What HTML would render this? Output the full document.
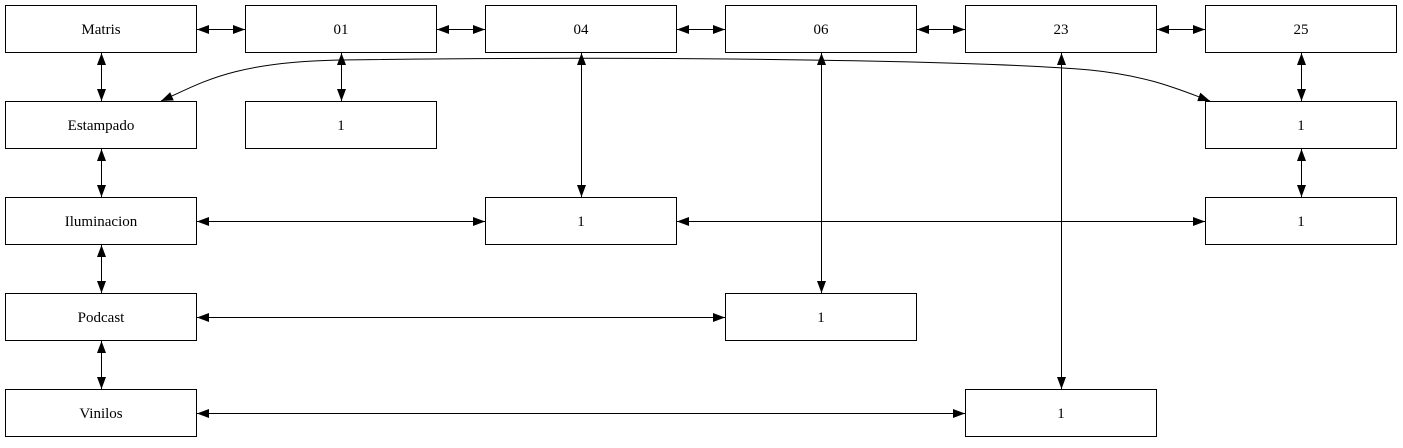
<!DOCTYPE html>
<html><head><meta charset="utf-8"><style>body{margin:0;background:#fff} text{font-family:"Liberation Serif",serif;font-size:15px}</style></head>
<body>
<svg width="1403" height="443" xmlns="http://www.w3.org/2000/svg">
<defs>
<marker id="a" markerWidth="12" markerHeight="9" refX="12" refY="4.5" orient="auto-start-reverse" markerUnits="userSpaceOnUse">
<path d="M0,0 L12,4.5 L0,9 Z" fill="#000"/></marker>
</defs>
<g fill="#fff" stroke="#000" stroke-width="1">
<rect x="5.5" y="5.5" width="191" height="47"/>
<rect x="245.5" y="5.5" width="191" height="47"/>
<rect x="485.5" y="5.5" width="191" height="47"/>
<rect x="725.5" y="5.5" width="191" height="47"/>
<rect x="965.5" y="5.5" width="191" height="47"/>
<rect x="1205.5" y="5.5" width="191" height="47"/>
<rect x="5.5" y="101.5" width="191" height="47"/>
<rect x="245.5" y="101.5" width="191" height="47"/>
<rect x="1205.5" y="101.5" width="191" height="47"/>
<rect x="5.5" y="197.5" width="191" height="47"/>
<rect x="485.5" y="197.5" width="191" height="47"/>
<rect x="1205.5" y="197.5" width="191" height="47"/>
<rect x="5.5" y="293.5" width="191" height="47"/>
<rect x="725.5" y="293.5" width="191" height="47"/>
<rect x="5.5" y="389.5" width="191" height="47"/>
<rect x="965.5" y="389.5" width="191" height="47"/>
</g>
<g stroke="#000" stroke-width="1" fill="none" marker-start="url(#a)" marker-end="url(#a)">
<line x1="197" y1="29.5" x2="245" y2="29.5"/>
<line x1="437" y1="29.5" x2="485" y2="29.5"/>
<line x1="677" y1="29.5" x2="725" y2="29.5"/>
<line x1="917" y1="29.5" x2="965" y2="29.5"/>
<line x1="1157" y1="29.5" x2="1205" y2="29.5"/>
<line x1="101.5" y1="53" x2="101.5" y2="101"/>
<line x1="101.5" y1="149" x2="101.5" y2="197"/>
<line x1="101.5" y1="245" x2="101.5" y2="293"/>
<line x1="101.5" y1="341" x2="101.5" y2="389"/>
<line x1="341.5" y1="53" x2="341.5" y2="101"/>
<line x1="581.5" y1="53" x2="581.5" y2="197"/>
<line x1="821.5" y1="53" x2="821.5" y2="293"/>
<line x1="1061.5" y1="53" x2="1061.5" y2="389"/>
<line x1="1301.5" y1="53" x2="1301.5" y2="101"/>
<line x1="1301.5" y1="149" x2="1301.5" y2="197"/>
<line x1="197" y1="221.5" x2="485" y2="221.5"/>
<line x1="677" y1="221.5" x2="1205" y2="221.5"/>
<line x1="197" y1="317.5" x2="725" y2="317.5"/>
<line x1="197" y1="413.5" x2="965" y2="413.5"/>
<path d="M161,101 C200,84 230,62 340,60 C700,55 1000,62 1090,70 C1150,76 1180,90 1210,101"/>
</g>
<g text-anchor="middle" fill="#000">
<text x="101" y="34">Matris</text>
<text x="341" y="34">01</text>
<text x="581" y="34">04</text>
<text x="821" y="34">06</text>
<text x="1061" y="34">23</text>
<text x="1301" y="34">25</text>
<text x="101" y="130">Estampado</text>
<text x="341" y="130">1</text>
<text x="1301" y="130">1</text>
<text x="101" y="226">Iluminacion</text>
<text x="581" y="226">1</text>
<text x="1301" y="226">1</text>
<text x="101" y="322">Podcast</text>
<text x="821" y="322">1</text>
<text x="101" y="418">Vinilos</text>
<text x="1061" y="418">1</text>
</g>
</svg>
</body></html>
